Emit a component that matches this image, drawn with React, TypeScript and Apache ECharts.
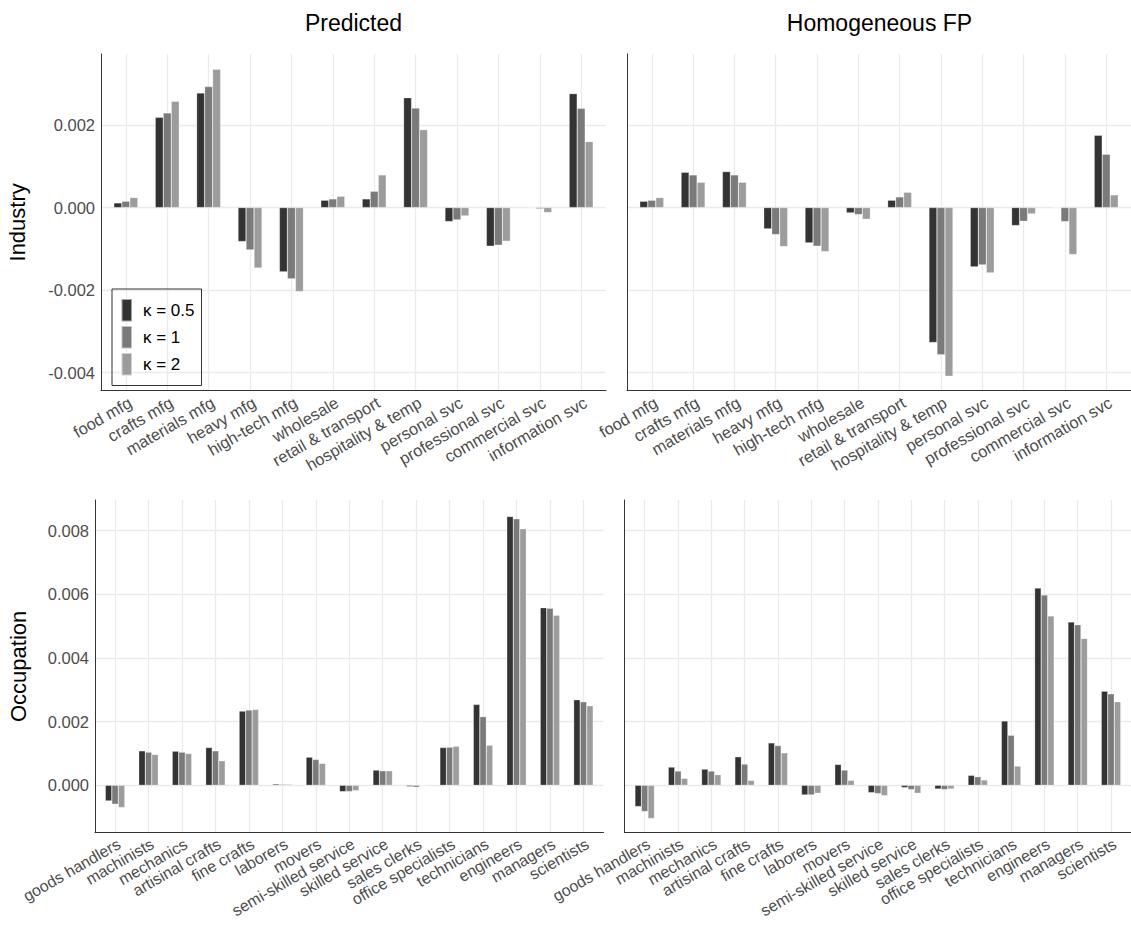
import React, { useEffect, useRef } from 'react';
import * as echarts from 'echarts';

const industryCats = ['food mfg', 'crafts mfg', 'materials mfg', 'heavy mfg', 'high-tech mfg', 'wholesale', 'retail & transport', 'hospitality & temp', 'personal svc', 'professional svc', 'commercial svc', 'information svc'];
const occupationCats = ['goods handlers', 'machinists', 'mechanics', 'artisinal crafts', 'fine crafts', 'laborers', 'movers', 'semi-skilled service', 'skilled service', 'sales clerks', 'office specialists', 'technicians', 'engineers', 'managers', 'scientists'];
const kappaLabels = ['κ = 0.5', 'κ = 1', 'κ = 2'];
const panelTitles = ['Predicted', 'Homogeneous FP'];
const rowTitles = ['Industry', 'Occupation'];

// Predicted, Industry
const predInd05 = [0.000113, 0.002187, 0.002776, -0.000823, -0.001557, 0.000178, 0.00021, 0.002663, -0.000339, -0.000936, 0.000005, 0.00276];
const predInd1 = [0.000153, 0.002292, 0.00293, -0.001025, -0.001727, 0.00021, 0.000395, 0.002413, -0.000299, -0.000912, -0.00003, 0.002405];
const predInd2 = [0.000242, 0.002574, 0.003349, -0.001461, -0.002034, 0.000274, 0.000791, 0.001888, -0.000202, -0.000815, -0.00012, 0.001598];
// Homogeneous FP, Industry
const homInd05 = [0.000153, 0.000855, 0.000872, -0.000516, -0.000855, -0.000129, 0.000178, -0.003268, -0.001436, -0.000436, 0.0, 0.001751];
const homInd1 = [0.000178, 0.000791, 0.000791, -0.000654, -0.000936, -0.000169, 0.000258, -0.003567, -0.001388, -0.000331, -0.000339, 0.001291];
const homInd2 = [0.000242, 0.000613, 0.000613, -0.000944, -0.001065, -0.000282, 0.000371, -0.004083, -0.001582, -0.000153, -0.001138, 0.000307];
// Predicted, Occupation
const predOcc05 = [-0.00049, 0.001083, 0.001073, 0.001188, 0.002333, 0.00004, 0.000885, -0.000198, 0.000479, -0.00004, 0.001188, 0.002542, 0.008448, 0.005583, 0.002688];
const predOcc1 = [-0.000594, 0.001042, 0.001042, 0.001083, 0.002365, 0.00003, 0.000813, -0.000198, 0.000458, -0.00006, 0.001198, 0.002156, 0.008375, 0.005563, 0.002625];
const predOcc2 = [-0.000698, 0.000969, 0.001, 0.000771, 0.002385, 0.00003, 0.000688, -0.000167, 0.000458, -0.00001, 0.001229, 0.00126, 0.008063, 0.005344, 0.0025];
// Homogeneous FP, Occupation
const homOcc05 = [-0.000667, 0.000573, 0.00051, 0.000896, 0.001333, -0.000302, 0.000656, -0.000229, -0.000073, -0.000115, 0.000313, 0.002021, 0.006198, 0.005135, 0.002958];
const homOcc1 = [-0.000823, 0.000448, 0.000448, 0.000667, 0.00125, -0.000302, 0.000479, -0.00026, -0.000135, -0.000135, 0.000271, 0.001573, 0.005979, 0.005042, 0.002875];
const homOcc2 = [-0.001042, 0.000219, 0.000333, 0.000156, 0.001021, -0.00025, 0.000156, -0.000323, -0.00025, -0.000115, 0.000167, 0.000604, 0.005323, 0.004615, 0.002625];

const industryTicks = [-0.004, -0.002, 0, 0.002];
const occupationTicks = [0, 0.002, 0.004, 0.006, 0.008];
const industryRange = [-0.004436, 0.00372];
const occupationRange = [-0.001489, 0.008965];

const FONT = '"Liberation Sans", Arial, Helvetica, sans-serif';
const barColors = ['#333333', '#7a7a7a', '#9c9c9c'];

export default function App() {
  const ref = useRef<HTMLDivElement>(null);
  useEffect(() => {
    if (!ref.current) return;
    const chart = echarts.init(ref.current, undefined, { renderer: 'svg' });

    const panels = [
      { cats: industryCats, ticks: industryTicks, range: industryRange, series: [predInd05, predInd1, predInd2], grid: { left: 101, top: 54, width: 505, height: 336.7 }, showY: true, yName: rowTitles[0], nameGap: 73, barWidth: 8, labelSize: 16.5 },
      { cats: industryCats, ticks: industryTicks, range: industryRange, series: [homInd05, homInd1, homInd2], grid: { left: 627, top: 54, width: 505, height: 336.7 }, showY: false, yName: '', nameGap: 0, barWidth: 8, labelSize: 16.5 },
      { cats: occupationCats, ticks: occupationTicks, range: occupationRange, series: [predOcc05, predOcc1, predOcc2], grid: { left: 95, top: 500, width: 508.5, height: 332.7 }, showY: true, yName: rowTitles[1], nameGap: 66, barWidth: 6.5, labelSize: 16 },
      { cats: occupationCats, ticks: occupationTicks, range: occupationRange, series: [homOcc05, homOcc1, homOcc2], grid: { left: 624.7, top: 500, width: 508.5, height: 332.7 }, showY: false, yName: '', nameGap: 0, barWidth: 6.5, labelSize: 16 },
    ];

    const grids: any[] = [];
    const xAxes: any[] = [];
    const yAxes: any[] = [];
    const series: any[] = [];

    panels.forEach((p, i) => {
      grids.push({ ...p.grid, containLabel: false });
      const catIdx = p.cats.map((_, j) => j + 1);
      xAxes.push({
        type: 'value',
        gridIndex: i,
        min: 0.4,
        max: p.cats.length + 0.6,
        axisLine: { show: true, onZero: false, lineStyle: { color: '#333333', width: 1 } },
        axisTick: { show: false, customValues: catIdx },
        axisLabel: {
          customValues: catIdx,
          showMinLabel: true,
          showMaxLabel: true,
          hideOverlap: false,
          rotate: 30,
          margin: 3,
          fontSize: p.labelSize,
          verticalAlign: 'top',
          align: 'right',
          color: '#4d4d4d',
          fontFamily: FONT,
          formatter: (v: number) => p.cats[Math.round(v) - 1] ?? '',
        },
        splitLine: { show: true, lineStyle: { color: '#ebebeb', width: 1.3 } },
      });
      yAxes.push({
        type: 'value',
        gridIndex: i,
        min: p.range[0],
        max: p.range[1],
        name: p.yName,
        nameLocation: 'middle',
        nameGap: p.nameGap,
        nameTextStyle: { fontSize: 22, color: '#000000', fontFamily: FONT },
        axisLine: { show: true, onZero: false, lineStyle: { color: '#333333', width: 1 } },
        axisTick: { show: false, customValues: p.ticks },
        axisLabel: {
          show: p.showY,
          customValues: p.ticks,
          showMinLabel: true,
          showMaxLabel: true,
          margin: 6,
          fontSize: 16.5,
          color: '#4d4d4d',
          fontFamily: FONT,
          formatter: (v: number) => v.toFixed(3),
        },
        splitLine: { show: true, lineStyle: { color: '#ebebeb', width: 1.3 } },
      });
      p.series.forEach((vals, k) => {
        series.push({
          type: 'bar',
          name: kappaLabels[k],
          xAxisIndex: i,
          yAxisIndex: i,
          barWidth: p.barWidth,
          barGap: '0%',
          data: vals.map((v, j) => [j + 1, v]),
          itemStyle: { color: barColors[k], borderColor: 'rgba(255,255,255,0.55)', borderWidth: 0.5 },
        });
      });
    });

    chart.setOption({
      animation: false,
      backgroundColor: '#ffffff',
      textStyle: { fontFamily: FONT },
      grid: grids,
      xAxis: xAxes,
      yAxis: yAxes,
      series,
      legend: {
        data: kappaLabels,
        orient: 'vertical',
        left: 112,
        top: 289,
        padding: [9, 7, 9, 8.5],
        borderColor: '#333333',
        borderWidth: 1,
        itemWidth: 10.5,
        itemHeight: 22.5,
        itemGap: 2.5,
        icon: 'rect',
        selectedMode: false,
        textStyle: { fontSize: 17, color: '#000000', fontFamily: FONT, padding: [0, 0, 0, 6] },
      },
      graphic: [
        { type: 'text', x: 353.5, y: 23, style: { text: panelTitles[0], align: 'center', verticalAlign: 'middle', fontSize: 23, fill: '#000000', fontFamily: FONT } },
        { type: 'text', x: 879.5, y: 23, style: { text: panelTitles[1], align: 'center', verticalAlign: 'middle', fontSize: 23, fill: '#000000', fontFamily: FONT } },
      ],
    });

    return () => chart.dispose();
  }, []);

  return <div ref={ref} style={{ position: 'fixed', left: 0, top: 0, width: 1131, height: 926 }} />;
}
